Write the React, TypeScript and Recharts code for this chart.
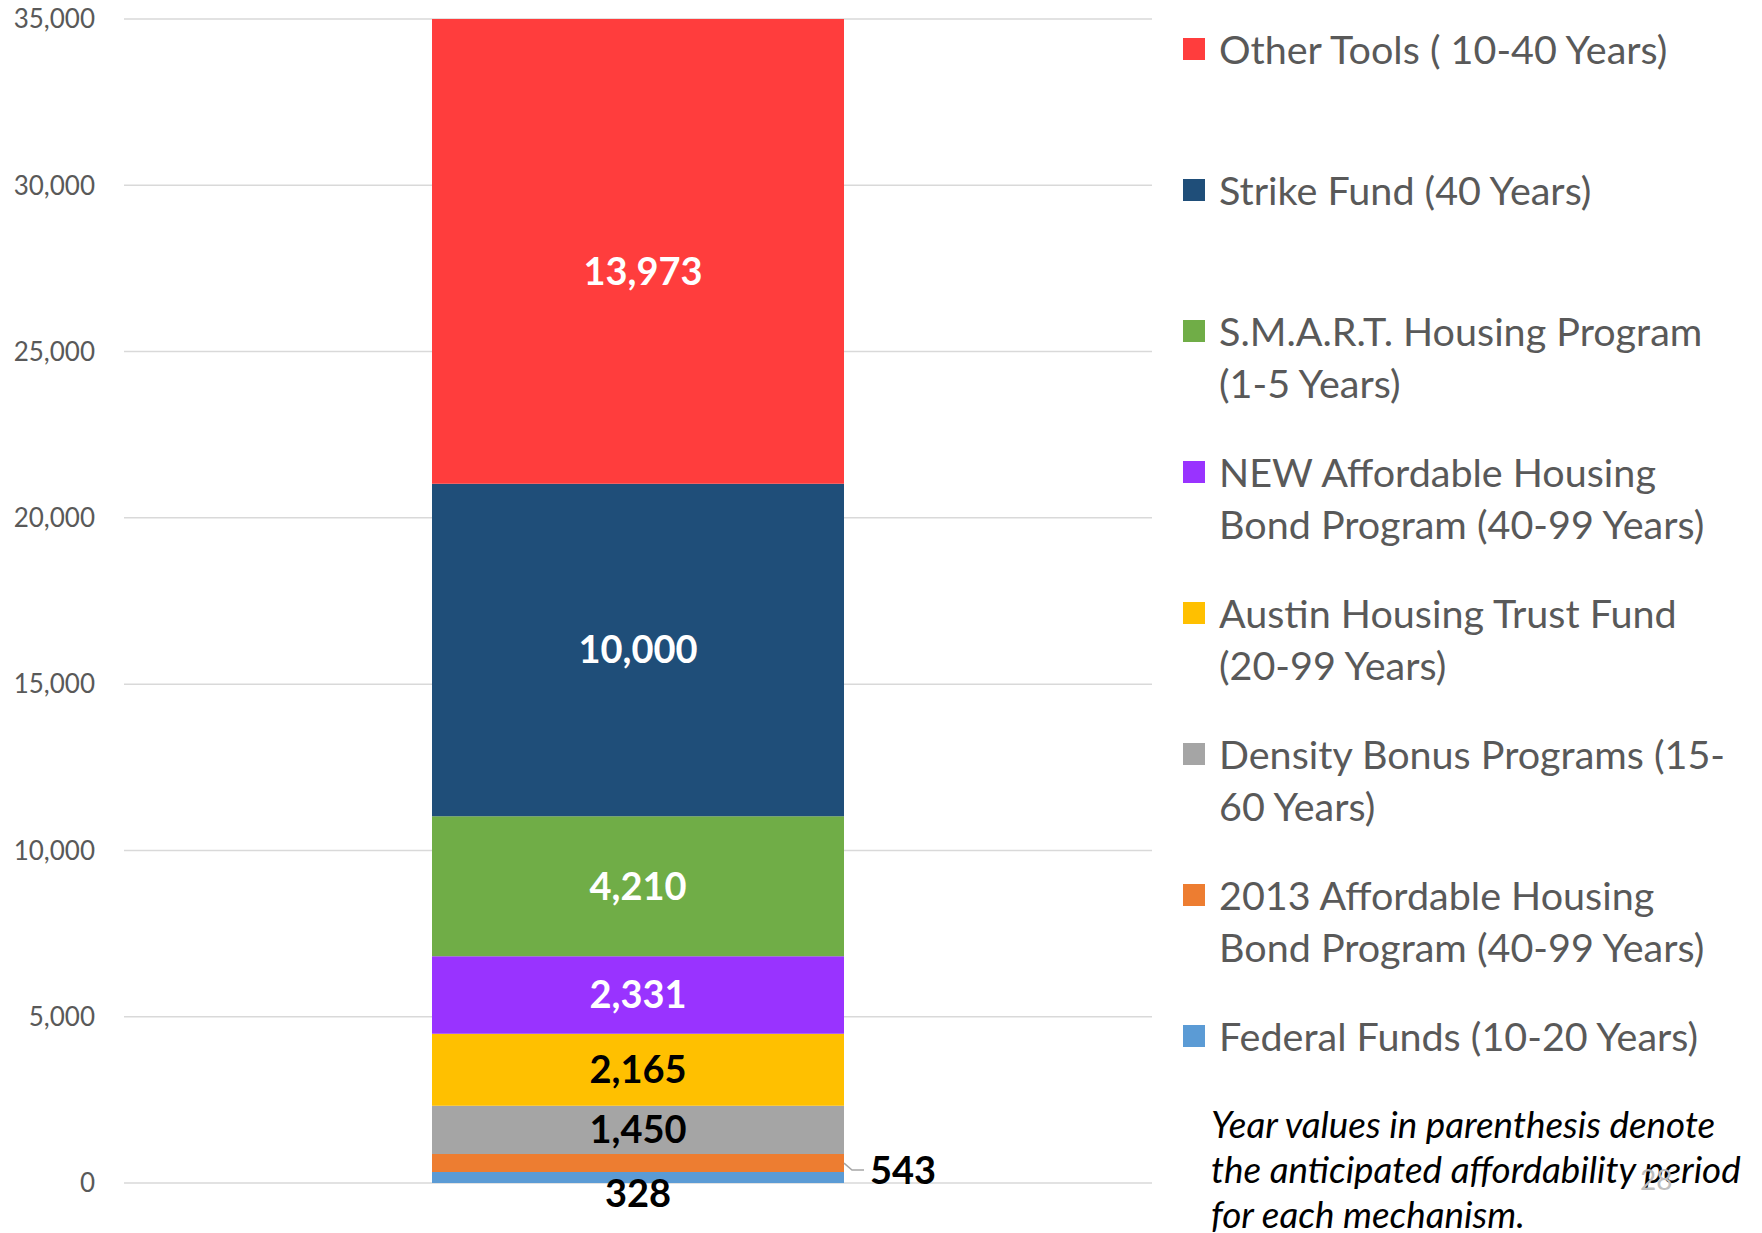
import { BarChart, Bar, XAxis, YAxis, CartesianGrid, LabelList } from "recharts";

const categories = ["Units"];
const seriesKeys = ["federal", "bond2013", "density", "trust", "bondNew", "smart", "strike", "other"];
const seriesNames = [
  "Federal Funds (10-20 Years)",
  "2013 Affordable Housing\nBond Program (40-99 Years)",
  "Density Bonus Programs (15-\n60 Years)",
  "Austin Housing Trust Fund\n(20-99 Years)",
  "NEW Affordable Housing\nBond Program (40-99 Years)",
  "S.M.A.R.T. Housing Program\n(1-5 Years)",
  "Strike Fund (40 Years)",
  "Other Tools ( 10-40 Years)",
];
const seriesValues = [328, 543, 1450, 2165, 2331, 4210, 10000, 13973];
const seriesColors = ["#5B9BD5", "#ED7D31", "#A5A5A5", "#FFC000", "#9933FF", "#70AD47", "#1F4E79", "#FF3D3D"];
const labelColors = ["#000", "#000", "#000", "#000", "#fff", "#fff", "#fff", "#fff"];
const yTicks = [0, 5000, 10000, 15000, 20000, 25000, 30000, 35000];
const footnote = ["Year values in parenthesis denote", "the anticipated affordability period", "for each mechanism."];

const data = categories.map((c) => {
  const row: Record<string, any> = { name: c };
  seriesKeys.forEach((k, i) => (row[k] = seriesValues[i]));
  return row;
});

const fmt = (v: number) => Number(v).toLocaleString("en-US");

function makeLabel(i: number) {
  return (props: any) => {
    const x = Number(props.x), y = Number(props.y), w = Number(props.width), h = Number(props.height);
    const txt = fmt(props.value);
    const common = { fontFamily: "Lato", fontWeight: 700, fontSize: 38 };
    if (seriesKeys[i] === "bond2013") {
      const cy = y + h / 2;
      return (
        <g>
          <polyline points={`${x + w},${cy} ${x + w + 8},${cy + 7} ${x + w + 20},${cy + 7}`} fill="none" stroke="#A6A6A6" strokeWidth={1.5} />
          <text x={x + w + 26} y={cy + 8} dy="0.35em" fill="#000" {...common}>{txt}</text>
        </g>
      );
    }
    if (seriesKeys[i] === "federal") {
      return (
        <text x={x + w / 2} y={y + h + 11} dy="0.35em" textAnchor="middle" fill="#000" {...common}>{txt}</text>
      );
    }
    const shift = seriesKeys[i] === "other" ? 20 : 0;
    return (
      <text x={x + w / 2 + (shift ? 5 : 0)} y={y + h / 2 + shift} dy="0.35em" textAnchor="middle" fill={labelColors[i]} {...common}>{txt}</text>
    );
  };
}

function LegendBox() {
  const order = seriesKeys.map((_, i) => i).reverse();
  return (
    <div style={{ position: "absolute", left: 1183, top: 23, width: 575, fontFamily: "Lato", fontSize: 39.5, lineHeight: "52px", color: "#595959" }}>
      {order.map((i) => (
        <div key={seriesKeys[i]} style={{ position: "relative", height: 141, paddingLeft: 36 }}>
          <div style={{ position: "absolute", left: 0, top: 15, width: 22, height: 22, background: seriesColors[i] }} />
          <div style={{ whiteSpace: "pre" }}>{seriesNames[i]}</div>
        </div>
      ))}
    </div>
  );
}

export default function App() {
  return (
    <div style={{ position: "absolute", left: 0, top: 0, width: 1762, height: 1233, background: "#fff" }}>
      <BarChart width={1762} height={1233} data={data} margin={{ top: 19, right: 610, bottom: 50, left: 0 }}>
        <CartesianGrid vertical={false} stroke="#D9D9D9" strokeWidth={1.5} />
        <XAxis dataKey="name" hide />
        <YAxis
          width={124}
          domain={[0, 35000]}
          ticks={yTicks}
          tickFormatter={fmt}
          axisLine={false}
          tickLine={false}
          tickSize={0}
          tickMargin={29}
          tick={{ fill: "#595959", fontSize: 26, fontFamily: "Lato" }}
        />
        {seriesKeys.map((k, i) => (
          <Bar key={k} dataKey={k} name={seriesNames[i]} stackId="a" fill={seriesColors[i]} barSize={412} isAnimationActive={false}>
            <LabelList dataKey={k} content={makeLabel(i)} />
          </Bar>
        ))}
      </BarChart>
      <LegendBox />
      <div style={{ position: "absolute", left: 1211, top: 1102, fontFamily: "Lato", fontStyle: "italic", fontSize: 36.8, lineHeight: "45px", color: "#000", whiteSpace: "pre" }}>
        {footnote.join("\n")}
      </div>
      <div style={{ position: "absolute", left: 1640, top: 1162, fontFamily: "Lato", fontSize: 28, color: "#BFBFBF" }}>28</div>
    </div>
  );
}
